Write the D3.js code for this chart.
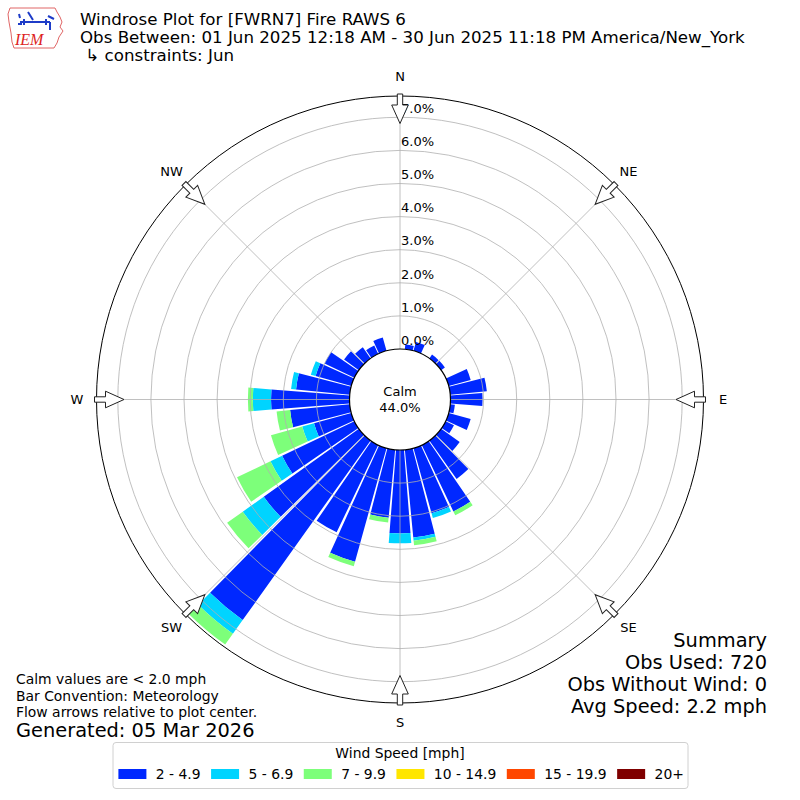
<!DOCTYPE html>
<html>
<head>
<meta charset="utf-8">
<script src="https://cdn.jsdelivr.net/npm/d3@7"></script>
<style>
  body { margin: 0; background: #fff; }
  svg text { font-family: "DejaVu Sans", sans-serif; }
</style>
</head>
<body>
<div id="viz"></div>
<script>
const directions = [0, 10, 20, 30, 40, 50, 60, 70, 80, 90, 100, 110, 120, 130, 140, 150, 160, 170,
  180, 190, 200, 210, 220, 230, 240, 250, 260, 270, 280, 290, 300, 310, 320, 330, 340, 350];

const speedBins = ["2 - 4.9", "5 - 6.9", "7 - 9.9", "10 - 14.9", "15 - 19.9", "20+"];
const binColors = ["#0028ff", "#00d4ff", "#7dff7a", "#ffe600", "#ff4700", "#7f0000"];

// percent of obs per direction, one array per speed bin
const speed2to5 = [0, 0.14, 0.28, 0, 0.14, 0.14, 0, 0.69, 1.11, 0.97, 0.14, 0.69, 0.28, 0.69, 1.42, 2.22, 2.04, 2.66,
  2.52, 2.06, 3.56, 2.92, 6.66, 3.53, 2.42, 1.17, 1.81, 2.37, 1.63, 1.12, 1.0, 0.55, 0.41, 0.28, 0.42, 0];
const speed5to7 = [0, 0, 0, 0, 0, 0, 0, 0, 0, 0, 0, 0, 0, 0, 0, 0, 0.15, 0.10,
  0.30, 0, 0, 0, 0.51, 0.78, 0.39, 0.37, 0, 0.55, 0.15, 0.15, 0, 0, 0, 0, 0, 0];
const speed7to10 = [0, 0, 0, 0, 0, 0, 0, 0, 0, 0, 0, 0, 0, 0, 0, 0.13, 0, 0.14,
  0, 0.15, 0.14, 0, 0.40, 0.58, 1.12, 0.98, 0.41, 0.15, 0, 0, 0, 0, 0, 0, 0, 0];
const speed10to15 = new Array(36).fill(0);
const speed15to20 = new Array(36).fill(0);
const speed20plus = new Array(36).fill(0);

const ringTicks = [0, 1, 2, 3, 4, 5, 6, 7];
const compassLabels = ["N", "NE", "E", "SE", "S", "SW", "W", "NW"];
const compassAngles = [0, 45, 90, 135, 180, 225, 270, 315];

const calmPct = "44.0%";
const titleLines = [
  "Windrose Plot for [FWRN7] Fire RAWS 6",
  "Obs Between: 01 Jun 2025 12:18 AM - 30 Jun 2025 11:18 PM America/New_York",
  " \u21b3 constraints: Jun"
];
const noteLines = ["Calm values are < 2.0 mph", "Bar Convention: Meteorology", "Flow arrows relative to plot center."];
const generatedText = "Generated: 05 Mar 2026";
const summaryLines = ["Summary", "Obs Used: 720", "Obs Without Wind: 0", "Avg Speed: 2.2 mph"];

const seriesValues = [speed2to5, speed5to7, speed7to10, speed10to15, speed15to20, speed20plus];
const table = directions.map((dir, i) => {
  const row = { dir };
  speedBins.forEach((bin, j) => { row[bin] = seriesValues[j][i]; });
  return row;
});

const width = 800, height = 800;
const cx = 400, cy = 399.5;
const calmR = 50.5, outerR = 303.5;
const barWidth = 9;

const svg = d3.select("#viz").append("svg")
  .attr("width", width)
  .attr("height", height);

const r = d3.scaleLinear()
  .domain([0, 7])
  .range([calmR, calmR + 7 * 33.1]);

const rad = d => d * Math.PI / 180;

const plot = svg.append("g")
  .attr("transform", `translate(${cx},${cy})`);

plot.append("circle")
  .attr("r", outerR)
  .attr("fill", "#fff");

const stacked = d3.stack().keys(speedBins)(table);

const arc = d3.arc();

plot.append("g")
  .selectAll("g")
  .data(stacked)
  .enter().append("g")
  .attr("fill", (d, i) => binColors[i])
  .selectAll("path")
  .data(d => d.filter(p => p[1] - p[0] > 0))
  .enter().append("path")
  .attr("d", p => arc({
    innerRadius: r(p[0]),
    outerRadius: r(p[1]),
    startAngle: rad(p.data.dir - barWidth / 2),
    endAngle: rad(p.data.dir + barWidth / 2)
  }));

// grid on top of the bars
const grid = plot.append("g")
  .attr("fill", "none")
  .attr("stroke", "#b0b0b0")
  .attr("stroke-width", 0.8);

grid.selectAll("circle")
  .data(ringTicks.slice(1))
  .enter().append("circle")
  .attr("r", d => r(d));

grid.selectAll("line")
  .data(compassAngles)
  .enter().append("line")
  .attr("x1", a => calmR * Math.sin(rad(a)))
  .attr("y1", a => -calmR * Math.cos(rad(a)))
  .attr("x2", a => outerR * Math.sin(rad(a)))
  .attr("y2", a => -outerR * Math.cos(rad(a)));

plot.append("circle")
  .attr("r", outerR)
  .attr("fill", "none")
  .attr("stroke", "#000")
  .attr("stroke-width", 1);

plot.append("circle")
  .attr("r", calmR)
  .attr("fill", "#fff")
  .attr("stroke", "#000")
  .attr("stroke-width", 1.2);

plot.append("text")
  .attr("text-anchor", "middle")
  .attr("y", -4)
  .style("font-size", "13px")
  .text("Calm");

plot.append("text")
  .attr("text-anchor", "middle")
  .attr("y", 12.5)
  .style("font-size", "13px")
  .text(calmPct);

plot.append("g")
  .selectAll("text")
  .data(ringTicks)
  .enter().append("text")
  .attr("x", 1)
  .attr("y", d => -r(d) - 4.3)
  .style("font-size", "13px")
  .text(d => `${d.toFixed(1)}%`);

plot.append("g")
  .selectAll("text")
  .data(compassLabels)
  .enter().append("text")
  .attr("x", (d, i) => 323 * Math.sin(rad(compassAngles[i])))
  .attr("y", (d, i) => -323 * Math.cos(rad(compassAngles[i])))
  .attr("text-anchor", "middle")
  .attr("dominant-baseline", "central")
  .style("font-size", "13px")
  .text(d => d);

const arrowPath = "M-2.7,-305.5 L2.7,-305.5 L2.7,-294.5 L8.3,-294.5 L0,-276 L-8.3,-294.5 L-2.7,-294.5 Z";

plot.append("g")
  .selectAll("path")
  .data(compassAngles)
  .enter().append("path")
  .attr("d", arrowPath)
  .attr("transform", a => `rotate(${a})`)
  .attr("fill", "#fff")
  .attr("stroke", "#222")
  .attr("stroke-width", 1);

// header
const header = svg.append("g");
header.selectAll("text")
  .data(titleLines)
  .enter().append("text")
  .attr("x", 80)
  .attr("y", (d, i) => 25 + i * 18)
  .attr("xml:space", "preserve")
  .style("font-size", "16.67px")
  .text(d => d);

// IEM logo
const logo = svg.append("g");
logo.append("path")
  .attr("d", "M10,8 L55,8 L57,12 L60,17 L62,22 L60,27 L63,31 L59,37 L57,43 L54,48 L14,48 L12,42 L11,33 L9,22 L8,14 Z")
  .attr("fill", "none")
  .attr("stroke", "#e06666")
  .attr("stroke-width", 1);
logo.append("path")
  .attr("d", "M20,22 L50,22 M24,19 L24,25 M46,19 L46,25 M28,12 L33,20 M48,16 L54,19 M50,22 L50,30 M19,14 L20,18 M18,24 L22,24")
  .attr("fill", "none")
  .attr("stroke", "#1e3cc8")
  .attr("stroke-width", 2);
logo.append("text")
  .attr("x", 15)
  .attr("y", 45)
  .style("font-family", "'Liberation Serif', serif")
  .style("font-style", "italic")
  .style("font-size", "16px")
  .attr("fill", "#d22")
  .text("IEM");

// notes bottom left
svg.append("g")
  .selectAll("text")
  .data(noteLines)
  .enter().append("text")
  .attr("x", 16)
  .attr("y", (d, i) => 684 + i * 16.5)
  .style("font-size", "13.9px")
  .text(d => d);

svg.append("text")
  .attr("x", 16)
  .attr("y", 737)
  .style("font-size", "19.4px")
  .text(generatedText);

svg.append("g")
  .selectAll("text")
  .data(summaryLines)
  .enter().append("text")
  .attr("x", 767)
  .attr("y", (d, i) => 647 + i * 22)
  .attr("text-anchor", "end")
  .style("font-size", "19.4px")
  .text(d => d);

// legend
const legend = svg.append("g");
legend.append("rect")
  .attr("x", 113)
  .attr("y", 742.5)
  .attr("width", 575)
  .attr("height", 46)
  .attr("rx", 3)
  .attr("fill", "#fff")
  .attr("stroke", "#d0d0d0")
  .attr("stroke-width", 1);

legend.append("text")
  .attr("x", 400)
  .attr("y", 758)
  .attr("text-anchor", "middle")
  .style("font-size", "13.9px")
  .text("Wind Speed [mph]");

let lx = 118.4;
speedBins.forEach((bin, i) => {
  legend.append("rect")
    .attr("x", lx)
    .attr("y", 769)
    .attr("width", 28)
    .attr("height", 10)
    .attr("fill", binColors[i]);
  const t = legend.append("text")
    .attr("x", lx + 37.4)
    .attr("y", 779)
    .style("font-size", "13.9px")
    .text(bin);
  lx += 37.4 + t.node().getComputedTextLength() + 10.5;
});
</script>
</body>
</html>
